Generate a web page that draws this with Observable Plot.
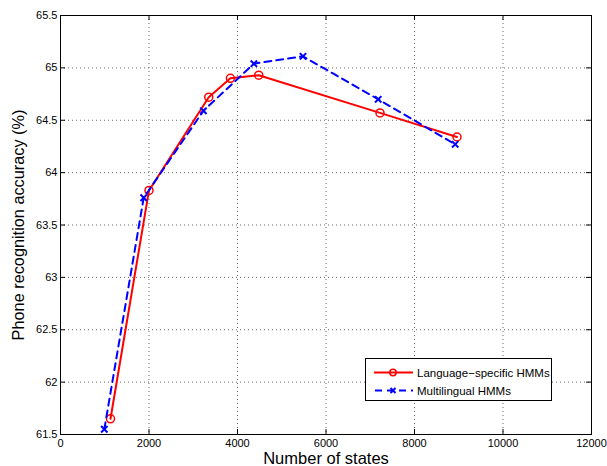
<!DOCTYPE html>
<html><head><meta charset="utf-8">
<script src="https://cdn.jsdelivr.net/npm/d3@7"></script>
<script src="https://cdn.jsdelivr.net/npm/@observablehq/plot@0.6"></script>
<style>
body{margin:0;background:#fff;font-family:"Liberation Sans",Arial,sans-serif;}
#wrap{position:relative;width:607px;height:466px;overflow:hidden;}
#legend{position:absolute;left:365px;top:358px;width:187px;height:43px;border:1px solid #000;background:#fff;box-sizing:border-box;}
</style></head>
<body><div id="wrap"><div id="chart"></div>
<div id="legend">
<svg width="187" height="43" style="position:absolute;left:0;top:0;overflow:visible">
<line x1="8" x2="47" y1="13.5" y2="13.5" stroke="#ff0000" stroke-width="2"/>
<circle cx="27" cy="13.5" r="3.2" fill="none" stroke="#ff0000" stroke-width="1.5"/>
<text x="51" y="17.5" font-size="11.5" font-family="Liberation Sans, Arial, sans-serif">Language−specific HMMs</text>
<line x1="8" x2="47" y1="31.5" y2="31.5" stroke="#0000ff" stroke-width="2" stroke-dasharray="7,5" stroke-dashoffset="-1"/>
<path d="M24.5,29L29.5,34M29.5,29L24.5,34" stroke="#0000ff" stroke-width="2"/>
<text x="51" y="35.5" font-size="11.5" font-family="Liberation Sans, Arial, sans-serif">Multilingual HMMs</text>
</svg>
</div></div>
<script>
const langStates = [1130, 2000, 3350, 3840, 4480, 7220, 8960];
const langAcc = [61.65, 63.83, 64.72, 64.90, 64.93, 64.57, 64.34];
const multiStates = [990, 1880, 3230, 4370, 5480, 7180, 8920];
const multiAcc = [61.55, 63.76, 64.59, 65.04, 65.11, 64.70, 64.27];
const xTicks = [0, 2000, 4000, 6000, 8000, 10000, 12000];
const yTicks = [61.5, 62, 62.5, 63, 63.5, 64, 64.5, 65, 65.5];

const lang = langStates.map((s, i) => ({s, a: langAcc[i]}));
const multi = multiStates.map((s, i) => ({s, a: multiAcc[i]}));

const W = 607, H = 466, mL = 60, mR = 16, mT = 15, mB = 32;
const pw = W - mL - mR, ph = H - mT - mB;
const font = "Liberation Sans, Arial, sans-serif";

const chart = Plot.plot({
  width: W, height: H,
  marginLeft: mL, marginRight: mR, marginTop: mT, marginBottom: mB,
  style: {fontFamily: font, fontSize: "11px", background: "white", overflow: "visible"},
  x: {domain: [0, 12000], ticks: xTicks},
  y: {domain: [61.5, 65.5], ticks: yTicks},
  marks: [
    Plot.gridX(xTicks, {stroke: "#666", strokeOpacity: 1, strokeDasharray: "1,3", strokeWidth: 1}),
    Plot.gridY(yTicks, {stroke: "#666", strokeOpacity: 1, strokeDasharray: "1,3", strokeWidth: 1}),
    Plot.frame({stroke: "black", strokeWidth: 1}),
    Plot.tickX(xTicks, {x: d => d, insetTop: ph - 5, stroke: "black"}),
    Plot.tickX(xTicks, {x: d => d, insetBottom: ph - 5, stroke: "black"}),
    Plot.tickY(yTicks, {y: d => d, insetRight: pw - 5, stroke: "black"}),
    Plot.tickY(yTicks, {y: d => d, insetLeft: pw - 5, stroke: "black"}),
    Plot.axisX(xTicks, {tickSize: 0, tickPadding: 5, label: null, fontSize: 11, fill: "black", tickFormat: d => String(d)}),
    Plot.axisY(yTicks, {tickSize: 0, tickPadding: 3, label: null, fontSize: 11, fill: "black", tickFormat: d => String(d)}),
    Plot.line(lang, {x: "s", y: "a", stroke: "#ff0000", strokeWidth: 2}),
    Plot.dot(lang, {x: "s", y: "a", r: 4, stroke: "#ff0000", strokeWidth: 1.5, fill: "none"}),
    Plot.line(multi, {x: "s", y: "a", stroke: "#0000ff", strokeWidth: 2, strokeDasharray: "7,5"}),
    Plot.dot(multi, {x: "s", y: "a", r: 3, symbol: "times", stroke: "#0000ff", strokeWidth: 2}),
    Plot.text(["Number of states"], {frameAnchor: "bottom", lineAnchor: "bottom", dy: 29, fontSize: 16.5, fill: "black"}),
    Plot.text(["Phone recognition accuracy (%)"], {frameAnchor: "left", textAnchor: "middle", lineAnchor: "middle", dx: -42, rotate: -90, fontSize: 16.3, fill: "black"})
  ]
});
document.getElementById("chart").appendChild(chart);
</script>
</body></html>
